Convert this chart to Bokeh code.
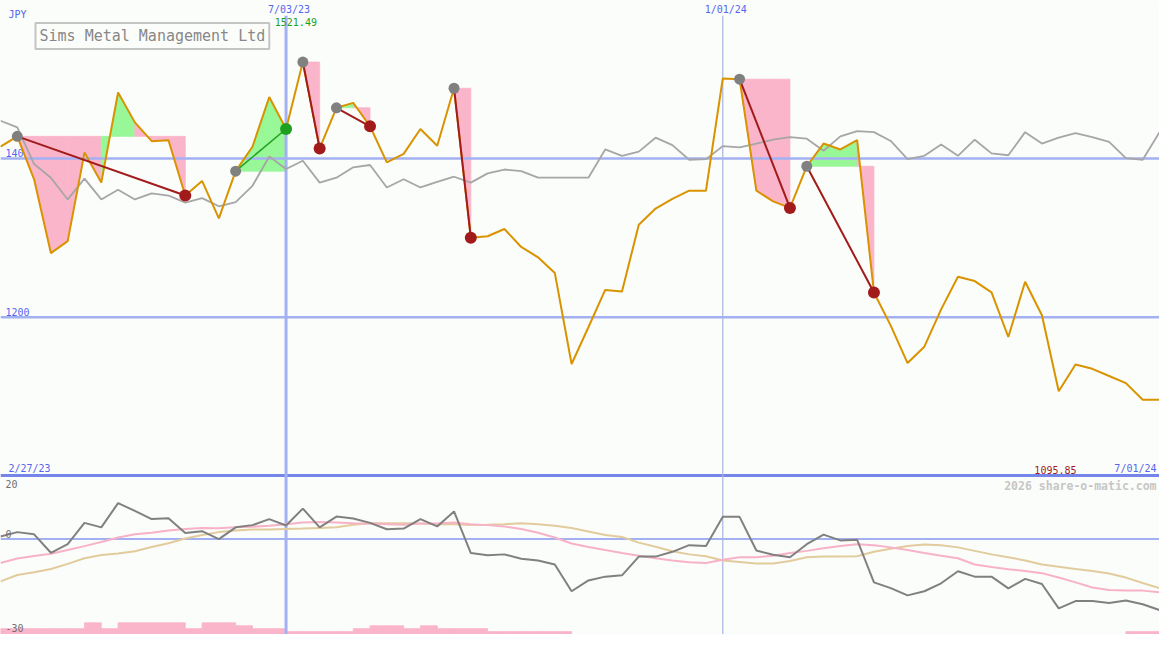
from datetime import datetime, timedelta

from bokeh.core.properties import value
from bokeh.embed import file_html
from bokeh.models import ColumnDataSource, Label, Range1d
from bokeh.plotting import figure
from bokeh.resources import INLINE

# ---------------- data ----------------
FIRST_WEEK = datetime(2023, 3, 6)
N_WEEKS = 70

price = [1414.8, 1427.9, 1373.8, 1280.8, 1295.9, 1407.4, 1369.6, 1483.2, 1445.5, 1421.8,
         1423.0, 1353.3, 1371.7, 1324.6, 1384.0, 1414.8, 1477.4, 1437.2, 1521.49, 1412.7,
         1463.9, 1470.1, 1440.6, 1395.1, 1405.8, 1437.2, 1416.0, 1488.5, 1300.1, 1302.0,
         1311.1, 1288.5, 1275.5, 1255.8, 1141.0, 1187.3, 1234.4, 1232.4, 1316.4, 1336.9,
         1349.2, 1359.4, 1359.4, 1500.8, 1499.9, 1359.4, 1345.9, 1337.7, 1390.2, 1418.8,
         1411.4, 1423.0, 1231.2, 1189.4, 1142.2, 1162.8, 1209.8, 1250.9, 1245.5, 1231.2,
         1175.0, 1244.7, 1202.5, 1106.6, 1140.3, 1134.9, 1125.9, 1116.9, 1095.85, 1095.85]

relative = [1447.6, 1439.3, 1393.0, 1375.8, 1348.4, 1374.6, 1348.4, 1360.7, 1348.4, 1356.1,
            1353.3, 1344.3, 1350.0, 1339.8, 1345.1, 1365.6, 1402.5, 1386.8, 1397.2, 1369.6,
            1375.8, 1388.9, 1391.8, 1363.5, 1373.8, 1363.5, 1370.5, 1377.0, 1369.6, 1381.2,
            1386.1, 1384.0, 1375.8, 1375.8, 1375.8, 1375.8, 1411.4, 1403.3, 1408.6, 1426.2,
            1416.8, 1398.4, 1399.1, 1415.6, 1413.9, 1418.8, 1423.7, 1427.0, 1425.0, 1409.8,
            1427.9, 1434.4, 1433.2, 1422.1, 1399.1, 1403.3, 1417.6, 1403.3, 1423.7, 1406.5,
            1404.1, 1433.2, 1418.8, 1426.2, 1432.0, 1427.0, 1420.9, 1400.4, 1398.4, 1433.2]

momentum = [0.8, 2.2, 1.5, -4.3, -1.6, 5.1, 3.7, 11.3, 8.9, 6.3,
            6.6, 1.9, 2.5, 0.0, 3.7, 4.4, 6.3, 4.3, 9.6, 3.7,
            7.1, 6.5, 5.1, 3.1, 3.3, 6.3, 4.0, 8.7, -4.4, -5.1,
            -4.8, -6.2, -6.7, -8.0, -16.4, -13.0, -11.8, -11.4, -5.5, -5.5,
            -4.0, -1.9, -2.2, 7.0, 7.0, -3.6, -4.9, -5.7, -1.6, 1.4,
            -0.4, -0.2, -13.6, -15.4, -17.7, -16.4, -13.9, -10.1, -11.8, -11.8,
            -15.5, -12.5, -14.1, -21.8, -19.5, -19.5, -20.1, -19.3, -20.5, -22.3]

momentum_fast = [-7.5, -6.1, -5.3, -4.6, -3.4, -2.2, -0.9, 0.5, 1.5, 2.0,
                 2.7, 3.2, 3.5, 3.4, 3.7, 3.9, 4.2, 4.7, 5.2, 5.4,
                 5.2, 5.0, 4.9, 4.7, 4.5, 4.9, 4.9, 5.2, 4.7, 4.4,
                 4.0, 3.2, 2.0, 0.5, -1.4, -2.5, -3.4, -4.4, -5.2, -6.0,
                 -6.7, -7.3, -7.5, -6.5, -5.7, -5.7, -5.2, -4.4, -3.7, -2.9,
                 -2.2, -1.6, -1.9, -2.6, -3.4, -4.4, -5.2, -6.0, -8.0, -8.8,
                 -9.5, -10.0, -10.7, -12.1, -13.6, -15.2, -16.0, -16.2, -16.2, -16.7]

momentum_slow = [-13.3, -11.3, -10.4, -9.4, -7.8, -6.0, -5.0, -4.5, -3.8, -2.5,
                 -1.3, 0.2, 1.3, 2.2, 2.7, 3.0, 3.0, 3.2, 3.3, 3.5,
                 3.7, 4.5, 5.0, 5.0, 5.0, 4.9, 4.7, 4.7, 4.4, 4.5,
                 4.7, 5.0, 4.7, 4.2, 3.5, 2.4, 1.3, 0.7, -1.1, -2.4,
                 -3.8, -4.8, -5.4, -6.7, -7.2, -7.7, -7.7, -6.9, -5.7, -5.5,
                 -5.5, -5.4, -4.0, -3.0, -2.2, -1.7, -1.9, -2.6, -3.7, -4.8,
                 -5.7, -6.7, -8.0, -8.7, -9.4, -10.0, -10.8, -12.1, -13.8, -15.4]

volume = [2, 2, 2, 2, 2, 4, 2, 4, 4, 4,
          4, 2, 4, 4, 3, 2, 2, 1, 1, 1,
          1, 2, 3, 3, 2, 3, 2, 2, 2, 1,
          1, 1, 1, 1, 0, 0, 0, 0, 0, 0,
          0, 0, 0, 0, 0, 0, 0, 0, 0, 0,
          0, 0, 0, 0, 0, 0, 0, 0, 0, 0,
          0, 0, 0, 0, 0, 0, 0, 1, 1, 0]

swings = [(1, 11), (14, 17), (18, 19), (20, 22), (27, 28), (44, 47), (48, 52)]

price_ticks = [1400, 1200]
lower_ticks = [20, 0, -30]
date_marks = [datetime(2023, 7, 3), datetime(2024, 1, 1)]
date_mark_labels = ["7/03/23", "1/01/24"]
range_labels = ["2/27/23", "7/01/24"]
title = "Sims Metal Management Ltd"
currency = "JPY"
credit = "2026 share-o-matic.com"

# ---------------- styling ----------------
BG = "#fbfdfa"
BLUE_LINE = "#a3b1f3"
BLUE_DARK = "#7585ea"
BLUE_TXT = "#5566ee"
ORANGE = "#d99300"
GREY = "#a6a6a6"
PINK = "#fab5ca"
GREEN_FILL = "#98f898"
DARKRED = "#a11b1b"
GREEN = "#1f9f1f"
FONT = "DejaVu Sans Mono"

EPOCH = datetime(1970, 1, 1)


def ms(d):
    return (d - EPOCH).total_seconds() * 1000.0


WEEK_MS = 7 * 86400000.0
x = [ms(FIRST_WEEK + timedelta(days=7 * i)) for i in range(N_WEEKS)]

Y_BOTTOM, Y_TOP = 800.1, 1599.1
LOW_BOTTOM, LOW_TOP = -30.0, 169.4
LINE_TOP = 1580.0

p = figure(width=1159, height=634,
           x_range=Range1d(x[0], x[-1]), y_range=Range1d(Y_BOTTOM, Y_TOP),
           x_axis_location=None, y_axis_location=None,
           output_backend="svg", toolbar_location=None, min_border=0,
           background_fill_color=BG, border_fill_color=BG, outline_line_color=None)
p.extra_y_ranges = {"lower": Range1d(LOW_BOTTOM, LOW_TOP)}
p.grid.visible = False


def lab(xv, yv, txt, color, size="10px", align="left", baseline="bottom",
        xo=0, yo=0, rng=None, style="normal"):
    kw = {}
    if rng:
        kw["y_range_name"] = rng
    p.text(x=[xv], y=[yv], text=[txt], text_color=color, text_font=value(FONT),
           text_font_size=size, text_align=align, text_baseline=baseline,
           x_offset=xo, y_offset=yo, text_font_style=style, **kw)


# tick labels drawn first (fills may cover them)
for t in price_ticks:
    lab(x[0], t, str(t), BLUE_TXT, xo=5, yo=-1)
lab(x[0], Y_TOP, currency, BLUE_TXT, baseline="middle", xo=8, yo=14)

# volume bars (lower panel)
vol_unit = 0.92
vi = [i for i, v in enumerate(volume) if v > 0]
p.quad(left=[x[i] for i in vi], right=[x[i] + WEEK_MS for i in vi],
       bottom=[LOW_BOTTOM] * len(vi),
       top=[LOW_BOTTOM + volume[i] * vol_unit for i in vi], fill_color=PINK,
       line_color=PINK, line_width=0.8, y_range_name="lower")

# swing fills
xs, ys, cs = [], [], []
for s, e in swings:
    level = price[s]
    for j in range(s, e):
        xs.append([x[j], x[j], x[j + 1], x[j + 1]])
        ys.append([level, price[j], price[j + 1], level])
        cs.append(GREEN_FILL if price[j + 1] >= level else PINK)
p.patches(xs="xs", ys="ys", fill_color="c", line_color="c", line_width=0.8,
          source=ColumnDataSource(dict(xs=xs, ys=ys, c=cs)))

# grid lines
p.segment(x0=[x[0]] * len(price_ticks), x1=[x[-1]] * len(price_ticks),
          y0=price_ticks, y1=price_ticks, line_color=BLUE_LINE, line_width=2.5)
p.segment(x0=[x[0]], x1=[x[-1]], y0=[0], y1=[0], line_color=BLUE_LINE,
          line_width=2, y_range_name="lower")
p.segment(x0=[x[0]], x1=[x[-1]], y0=[lower_ticks[0]], y1=[lower_ticks[0]],
          line_color=BLUE_DARK, line_width=3, y_range_name="lower")
p.segment(x0=[ms(date_marks[0])], x1=[ms(date_marks[0])], y0=[Y_BOTTOM], y1=[LINE_TOP],
          line_color=BLUE_LINE, line_width=3)
p.segment(x0=[ms(date_marks[1])], x1=[ms(date_marks[1])], y0=[Y_BOTTOM], y1=[LINE_TOP],
          line_color="#a9b2e6", line_width=1.2)

# lower panel lines
p.line(x, momentum_slow, line_color="#e2cb9c", line_width=2, y_range_name="lower")
p.line(x, momentum_fast, line_color="#f8b2c8", line_width=2, y_range_name="lower")
p.line(x, momentum, line_color="#808080", line_width=2, y_range_name="lower")

# main lines
p.line(x, relative, line_color=GREY, line_width=1.8)
p.line(x, price, line_color=ORANGE, line_width=2)

# swing connectors and markers
sx0 = [x[s] for s, e in swings]
sx1 = [x[e] for s, e in swings]
sy0 = [price[s] for s, e in swings]
sy1 = [price[e] for s, e in swings]
scol = [GREEN if price[e] >= price[s] else DARKRED for s, e in swings]
swidth = [1.5 if price[e] >= price[s] else 2 for s, e in swings]
p.segment(x0=sx0, y0=sy0, x1=sx1, y1=sy1, line_color=scol, line_width=swidth)
p.scatter(sx0, sy0, size=11, fill_color="#808080", line_color=None)
p.scatter(sx1, sy1, size=12, fill_color=scol, line_color=None)

# date / range labels
for d, t in zip(date_marks, date_mark_labels):
    lab(ms(d), Y_TOP, t, BLUE_TXT, align="center", baseline="middle", xo=3, yo=9)
imax = price.index(max(price))
lab(x[imax], Y_TOP, f"{max(price):.2f}", GREEN, align="center", baseline="middle", xo=-7, yo=21)
lab(x[0], lower_ticks[0], range_labels[0], BLUE_TXT, xo=8, yo=-2, rng="lower")
lab(x[-1], lower_ticks[0], range_labels[1], BLUE_TXT, align="right", xo=-3, yo=-2, rng="lower")
lab(x[-1], lower_ticks[0], f"{min(price):.2f}", DARKRED, align="right", xo=-83, yo=-2, rng="lower")
lab(x[-1], lower_ticks[0], credit, "#c6c6c6", size="11.5px", align="right",
    baseline="middle", xo=-3, yo=10, rng="lower", style="bold")

# lower panel tick labels
lab(x[0], lower_ticks[0], str(lower_ticks[0]), "#707070", baseline="top", xo=5, yo=4, rng="lower")
lab(x[0], lower_ticks[1], str(lower_ticks[1]), "#707070", xo=5, yo=-1, rng="lower")
lab(x[0], lower_ticks[2], str(lower_ticks[2]), "#707070", xo=5, yo=-3, rng="lower")

# title box
p.add_layout(Label(x=x[0], y=1554.3, x_offset=35, text=title, text_font=FONT,
                   text_font_size="15px", text_color="#888888", text_align="left",
                   text_baseline="middle", border_line_color="#c4c4c4",
                   border_line_width=2, background_fill_color=BG, padding=4))

open("out.html", "w").write(file_html(p, INLINE))
